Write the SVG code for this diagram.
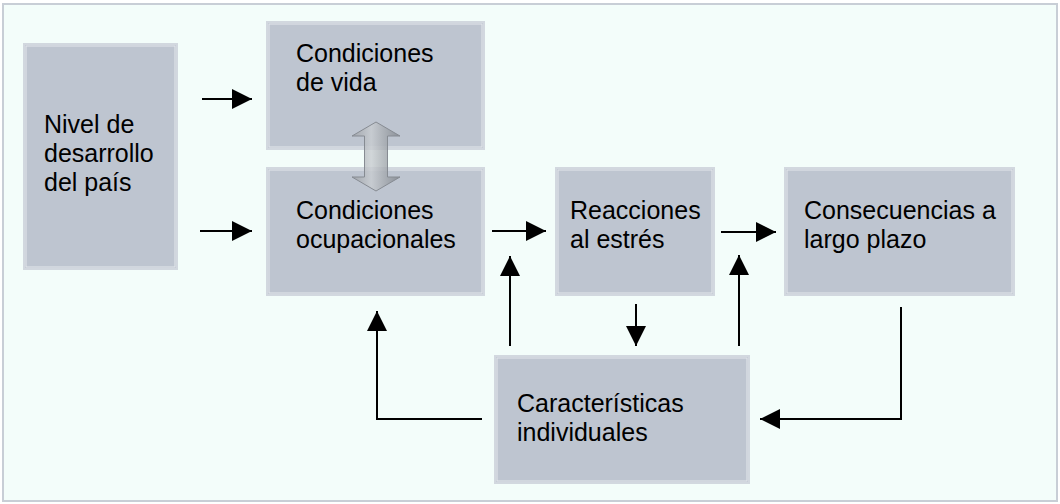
<svg xmlns="http://www.w3.org/2000/svg" width="1060" height="504" viewBox="0 0 1060 504">
<style>
.box{fill:#bec5d0;stroke:#d2d8df;stroke-width:2}
.inner{fill:none;stroke:#e4e8ec;stroke-width:1}
.t{font-family:"Liberation Sans",Arial,sans-serif;font-size:25px;fill:#000}
.c{fill:none;stroke:#000;stroke-width:2}
</style>
<defs>
<marker id="ah" viewBox="0 0 20 20" refX="20" refY="10" markerWidth="20" markerHeight="20" markerUnits="userSpaceOnUse" orient="auto">
<path d="M0,0 L20,10 L0,20 Z" fill="#000"/>
</marker>
<linearGradient id="dg" x1="0" y1="0" x2="1" y2="0">
<stop offset="0" stop-color="#9a9ea4"/>
<stop offset="0.4" stop-color="#c9cdd1"/>
<stop offset="1" stop-color="#7e838a"/>
</linearGradient>
</defs>
<rect x="3" y="4" width="1054" height="497" fill="#f3fdfa" stroke="#c8ced6" stroke-width="2"/>
<g id="nivel">
<rect class="box" x="24" y="44" width="153" height="225"/>
<rect class="inner" x="26" y="46" width="149" height="221"/>
<text class="t" x="44" y="133">Nivel de</text>
<text class="t" x="44" y="162">desarrollo</text>
<text class="t" x="44" y="191">del país</text>
</g>
<g id="vida">
<rect class="box" x="267" y="22" width="217" height="127"/>
<rect class="inner" x="269" y="24" width="213" height="123"/>
<text class="t" x="296" y="62">Condiciones</text>
<text class="t" x="296" y="91">de vida</text>
</g>
<g id="ocupacionales">
<rect class="box" x="267" y="168" width="217" height="127"/>
<rect class="inner" x="269" y="170" width="213" height="123"/>
<text class="t" x="296" y="219">Condiciones</text>
<text class="t" x="296" y="248">ocupacionales</text>
</g>
<g id="reacciones">
<rect class="box" x="556" y="168" width="158" height="127"/>
<rect class="inner" x="558" y="170" width="154" height="123"/>
<text class="t" x="570" y="219">Reacciones</text>
<text class="t" x="570" y="248">al estrés</text>
</g>
<g id="consecuencias">
<rect class="box" x="785" y="168" width="229" height="127"/>
<rect class="inner" x="787" y="170" width="225" height="123"/>
<text class="t" x="804" y="219">Consecuencias a</text>
<text class="t" x="804" y="248">largo plazo</text>
</g>
<g id="caracteristicas">
<rect class="box" x="495" y="356" width="254" height="127"/>
<rect class="inner" x="497" y="358" width="250" height="123"/>
<text class="t" x="517" y="412">Características</text>
<text class="t" x="517" y="441">individuales</text>
</g>
<g id="connectors">
<line class="c" x1="202" y1="99" x2="252" y2="99" marker-end="url(#ah)"/>
<line class="c" x1="200" y1="231" x2="252" y2="231" marker-end="url(#ah)"/>
<line class="c" x1="492" y1="231" x2="546" y2="231" marker-end="url(#ah)"/>
<line class="c" x1="721" y1="232" x2="776" y2="232" marker-end="url(#ah)"/>
<line class="c" x1="510" y1="346" x2="510" y2="256" marker-end="url(#ah)"/>
<line class="c" x1="739" y1="346" x2="739" y2="255" marker-end="url(#ah)"/>
<line class="c" x1="636" y1="304" x2="636" y2="346" marker-end="url(#ah)"/>
<polyline class="c" points="482,419 377,419 377,311" marker-end="url(#ah)"/>
<polyline class="c" points="901,307 901,419 760,419" marker-end="url(#ah)"/>
<path d="M376,122 L400,136 L387.5,136 L387.5,177 L400,177 L376,191 L352,177 L364.5,177 L364.5,136 L352,136 Z" fill="url(#dg)" fill-opacity="0.8" stroke="#868b92" stroke-width="1"/>
</g>
</svg>
